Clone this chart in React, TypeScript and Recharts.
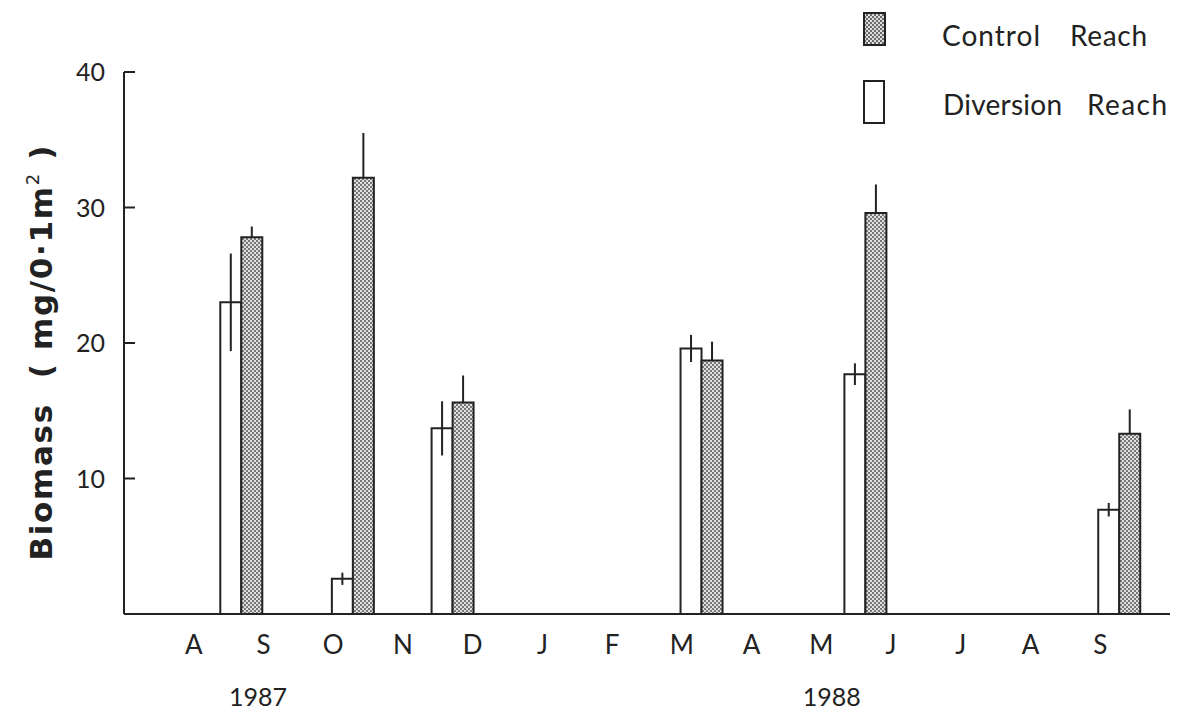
import React from 'react';
import { BarChart, Bar, XAxis, YAxis, ErrorBar, Legend } from 'recharts';

// ---- data ----
const monthLabels = ['A', 'S', 'O', 'N', 'D', 'J', 'F', 'M', 'A', 'M', 'J', 'J', 'A', 'S'];
const monthTicks = [0, 1, 2, 3, 4, 5, 6, 7, 8, 9, 10, 11, 12, 13];
// sampling dates, in month units (0 = Aug 1987 label)
const sampleMonth = [0.68, 2.28, 3.71, 7.28, 9.63, 13.27];
const diversionMean = [23.0, 2.6, 13.7, 19.6, 17.7, 7.7];
const diversionErr = [3.6, 0.45, 2.0, 1.0, 0.8, 0.5];
const controlMean = [27.8, 32.2, 15.6, 18.7, 29.6, 13.3];
const controlErr = [0.8, 3.3, 2.0, 1.4, 2.1, 1.8];
const yearTicks = [0.92, 9.15];
const yearLabels = ['1987', '1988'];
const yTicks = [10, 20, 30, 40];

const data = sampleMonth.map((x, i) => ({
  x,
  diversion: diversionMean[i],
  diversionErr: diversionErr[i],
  control: controlMean[i],
  controlErr: [0, controlErr[i]],
}));

const FONT = "Lato, 'Open Sans', sans-serif";
const LABEL_FONT = "'DejaVu Sans', 'Open Sans', sans-serif";
const INK = '#222';
const Y_TICK_MARGIN = 19;

const YTick = (props: any) => {
  const { x, y, payload } = props;
  const axisX = x + Y_TICK_MARGIN;
  return (
    <g>
      <line x1={axisX} x2={axisX + 11} y1={y} y2={y} stroke={INK} strokeWidth={2} />
      <text x={x} y={y} dy="0.36em" textAnchor="end" fontFamily={FONT} fontSize={25} fill={INK}>
        {payload.value}
      </text>
    </g>
  );
};

const YLabel = () => (
  <text
    x={52}
    y={353}
    transform="rotate(-90 52 353)"
    textAnchor="middle"
    fontFamily={LABEL_FONT}
    fontSize={31}
    fontWeight={700}
    fill={INK}
    textLength={415}
    lengthAdjust="spacing"
    style={{ whiteSpace: 'pre' }}
  >
    {'Biomass  ( mg/0·1m'}
    <tspan dy={-13} fontSize={18} fontWeight={400}>2</tspan>
    <tspan dy={13}>{' )'}</tspan>
  </text>
);

const LegendContent = () => (
  <svg width={337} height={140} style={{ display: 'block' }}>
    <defs>
      <pattern id="legDots" width={4} height={4} patternUnits="userSpaceOnUse">
        <rect width={4} height={4} fill="#dcdcdc" />
        <circle cx={1} cy={1} r={1} fill="#444" />
        <circle cx={3} cy={3} r={1} fill="#444" />
      </pattern>
    </defs>
    <g transform="translate(-840 0)">
      <rect x={864} y={13} width={21} height={32} fill="url(#legDots)" stroke={INK} strokeWidth={2} />
      <rect x={864} y={81} width={20} height={42} fill="#fff" stroke={INK} strokeWidth={2} />
      <g fontFamily={FONT} fontSize={28} fill={INK}>
        <text x={942} y={46} textLength={98} lengthAdjust="spacing">Control</text>
        <text x={1070} y={46} textLength={77} lengthAdjust="spacing">Reach</text>
        <text x={943} y={115} textLength={119} lengthAdjust="spacing">Diversion</text>
        <text x={1087} y={115} textLength={80} lengthAdjust="spacing">Reach</text>
      </g>
    </g>
  </svg>
);

export default function App() {
  return (
    <div style={{ position: 'absolute', left: 0, top: 0, width: 1177, height: 711, background: '#fff' }}>
      <BarChart
        width={1177}
        height={711}
        data={data}
        margin={{ top: 72, right: 7, left: 0, bottom: 0 }}
        barGap={0}
        barCategoryGap={0}
      >
        <defs>
          <pattern id="dots" width={4} height={4} patternUnits="userSpaceOnUse">
            <rect width={4} height={4} fill="#e0e0e0" />
            <circle cx={1} cy={1} r={0.95} fill="#4a4a4a" />
            <circle cx={3} cy={3} r={0.95} fill="#4a4a4a" />
          </pattern>
        </defs>
        <XAxis
          xAxisId="main"
          dataKey="x"
          type="number"
          domain={[-1, 14]}
          allowDataOverflow
          ticks={monthTicks}
          interval={0}
          tickFormatter={(v: number) => monthLabels[v] ?? ''}
          tickSize={0}
          tickMargin={22}
          height={45}
          axisLine={{ stroke: INK, strokeWidth: 2 }}
          tick={{ fontSize: 26, fill: INK, fontFamily: FONT }}
        />
        <XAxis
          xAxisId="year"
          dataKey="x"
          type="number"
          domain={[-1, 14]}
          allowDataOverflow
          ticks={yearTicks}
          interval={0}
          tickFormatter={(v: number) => yearLabels[yearTicks.indexOf(v)] ?? ''}
          tickSize={0}
          tickMargin={29}
          height={52}
          axisLine={false}
          tick={{ fontSize: 25, fill: INK, fontFamily: FONT }}
        />
        <YAxis
          type="number"
          domain={[0, 40]}
          ticks={yTicks}
          interval={0}
          width={124}
          tickSize={0}
          tickMargin={Y_TICK_MARGIN}
          tickLine={false}
          axisLine={{ stroke: INK, strokeWidth: 2 }}
          tick={<YTick />}
          label={<YLabel />}
        />
        <Legend
          layout="horizontal"
          verticalAlign="middle"
          align="center"
          wrapperStyle={{ left: 840, top: 0, width: 337, height: 140 }}
          content={<LegendContent />}
        />
        <Bar
          xAxisId="main"
          dataKey="diversion"
          name="Diversion Reach"
          fill="#fff"
          stroke={INK}
          strokeWidth={2}
          barSize={21}
          isAnimationActive={false}
        >
          <ErrorBar dataKey="diversionErr" direction="y" width={0} stroke={INK} strokeWidth={2} />
        </Bar>
        <Bar
          xAxisId="main"
          dataKey="control"
          name="Control Reach"
          fill="url(#dots)"
          stroke={INK}
          strokeWidth={2}
          barSize={21}
          isAnimationActive={false}
        >
          <ErrorBar dataKey="controlErr" direction="y" width={0} stroke={INK} strokeWidth={2} />
        </Bar>
      </BarChart>
    </div>
  );
}
